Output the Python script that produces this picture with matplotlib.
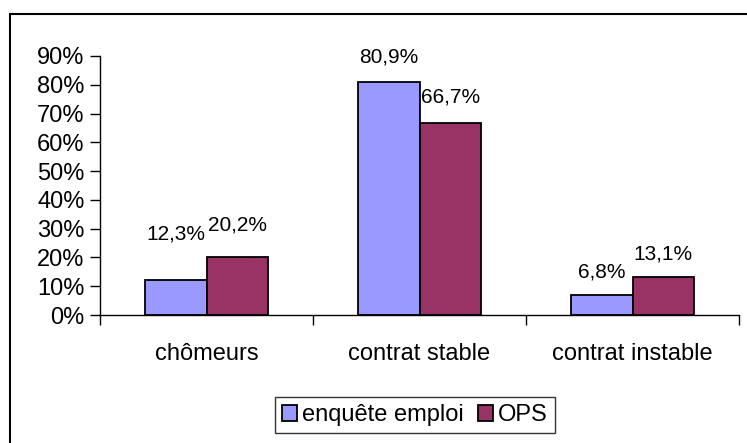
import numpy as np
import matplotlib.pyplot as plt
from matplotlib.patches import Rectangle

plt.rcParams['font.family'] = ['Liberation Sans', 'DejaVu Sans']

# données
categories = ['chômeurs', 'contrat stable', 'contrat instable']
enquete_emploi = [12.3, 80.9, 6.8]
ops = [20.2, 66.7, 13.1]
series_names = ['enquête emploi', 'OPS']
yticks = [0, 10, 20, 30, 40, 50, 60, 70, 80, 90]

# décalage des étiquettes au-dessus des barres (points)
off1 = [33, 18, 17]
off2 = [23, 19, 17]

fig = plt.figure(figsize=(7.47, 4.43), dpi=100)
ax = fig.add_axes([100 / 747, 1 - 315 / 443, 639 / 747, 259 / 443])

# cadre extérieur
fig.patches.append(Rectangle((9.5 / 747, -0.1), 1.2, 1 - 13.5 / 443 + 0.1,
                             transform=fig.transFigure, fill=False,
                             edgecolor='black', linewidth=1.5))

x = np.arange(len(categories))
w = 0.287
b1 = ax.bar(x - w / 2, enquete_emploi, w, color='#9999FF', edgecolor='black',
            linewidth=1.3, label=series_names[0])
b2 = ax.bar(x + w / 2, ops, w, color='#993366', edgecolor='black',
            linewidth=1.3, label=series_names[1])

for bars, vals, offs in [(b1, enquete_emploi, off1), (b2, ops, off2)]:
    for rect, v, o in zip(bars, vals, offs):
        ax.annotate(('%.1f%%' % v).replace('.', ','),
                    (rect.get_x() + rect.get_width() / 2, v),
                    xytext=(0, o), textcoords='offset points',
                    ha='center', va='center', fontsize=15)

ax.set_xlim(-0.5, 2.5)
ax.set_ylim(0, 90)
ax.set_yticks(yticks)
ax.set_yticklabels(['%d%%' % t for t in yticks], fontsize=17)
ax.set_xticks(x)
ax.set_xticklabels(categories, fontsize=17)
ax.tick_params(axis='x', length=0, pad=20)
ax.set_xticks([-0.5, 0.5, 1.5, 2.5], minor=True)
ax.tick_params(axis='x', which='minor', length=7, color='black', width=1)
ax.tick_params(axis='y', length=7, width=1, pad=4)

for s in ['top', 'right']:
    ax.spines[s].set_visible(False)
for s in ['left', 'bottom']:
    ax.spines[s].set_color('black')
    ax.spines[s].set_linewidth(1)

leg = fig.legend(loc='center', bbox_to_anchor=(415 / 747, 1 - 415 / 443),
                 ncol=2, fontsize=17, frameon=True, fancybox=False,
                 handlelength=0.65, handleheight=0.65, handletextpad=0.2,
                 columnspacing=0.6, borderpad=0.3)
leg.get_frame().set_edgecolor('black')
leg.get_frame().set_linewidth(1)

fig.savefig('out.png', dpi=100)
